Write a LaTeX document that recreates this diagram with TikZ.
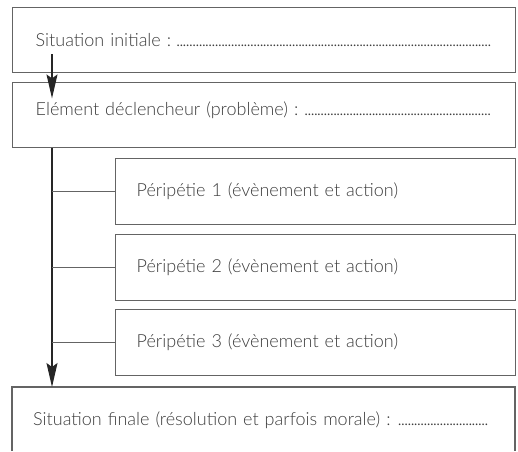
\documentclass[tikz,border=0pt]{standalone}
\usepackage{fontspec}
\setmainfont{Lato}[UprightFont={* Light}]
\usepackage{tikz}
\usetikzlibrary{arrows.meta, positioning, calc}

\definecolor{boxgray}{HTML}{646464}
\definecolor{txtgray}{HTML}{3C3C3C}

% dotted line to fill in by hand
\newcommand{\blank}{\leaders\hbox to 3.2pt{\hss.\hss}\hfill\null}

\tikzset{
  stage/.style={draw=boxgray, line width=1.4pt, minimum width=503, minimum height=65,
    text width=457, inner xsep=21, align=left, font=\fontsize{18}{22}\selectfont, text=txtgray},
  event/.style={stage, minimum width=400, minimum height=66, text width=358},
  branch/.style={draw=boxgray, line width=1.4pt},
  flow/.style={draw=black!85, line width=1.3pt, -{Stealth[length=24, width=11, inset=4]}}
}

\begin{document}
\begin{tikzpicture}[x=1pt, y=-1pt]
\useasboundingbox (0,0) rectangle (518,451);

% opening and trigger
\node[stage, anchor=north west] (init) at (12,7) {Situation initiale :\,\blank};
\node[stage, anchor=north west] (trig) at (12,82) {Elément déclencheur (problème) :~\blank\rule[-14pt]{0pt}{0pt}};

% the three episodes
\node[event, anchor=north west] (ep1) at (115,158) {Péripétie 1 (évènement et action)};
\node[event, anchor=north west] (ep2) at (115,234) {Péripétie 2 (évènement et action)};
\node[event, anchor=north west] (ep3) at (115,309) {Péripétie 3 (évènement et action)};

% ending, left open at the bottom
\coordinate (endnw) at (12,387);
\coordinate (endne) at (515,387);
\draw[branch] (12,451) -- (endnw) -- (endne) -- (515,451);
\node[anchor=west, font=\fontsize{18}{22}\selectfont, text=txtgray, text width=457, align=left, inner sep=0]
  (fin) at (33,420) {Situation finale (résolution et parfois morale) :~\blank};

% arrows down the left side
\coordinate (spine) at ($(trig.south west)+(40,0)$);
\draw[flow] ($(init.south west)+(40,-19)$) -- ++(0,44);
\draw[flow] (spine) -- (spine |- endnw);
\foreach \ep in {ep1, ep2, ep3}
  \draw[branch] (\ep.west) -- (\ep.west -| spine);
\end{tikzpicture}
\end{document}
